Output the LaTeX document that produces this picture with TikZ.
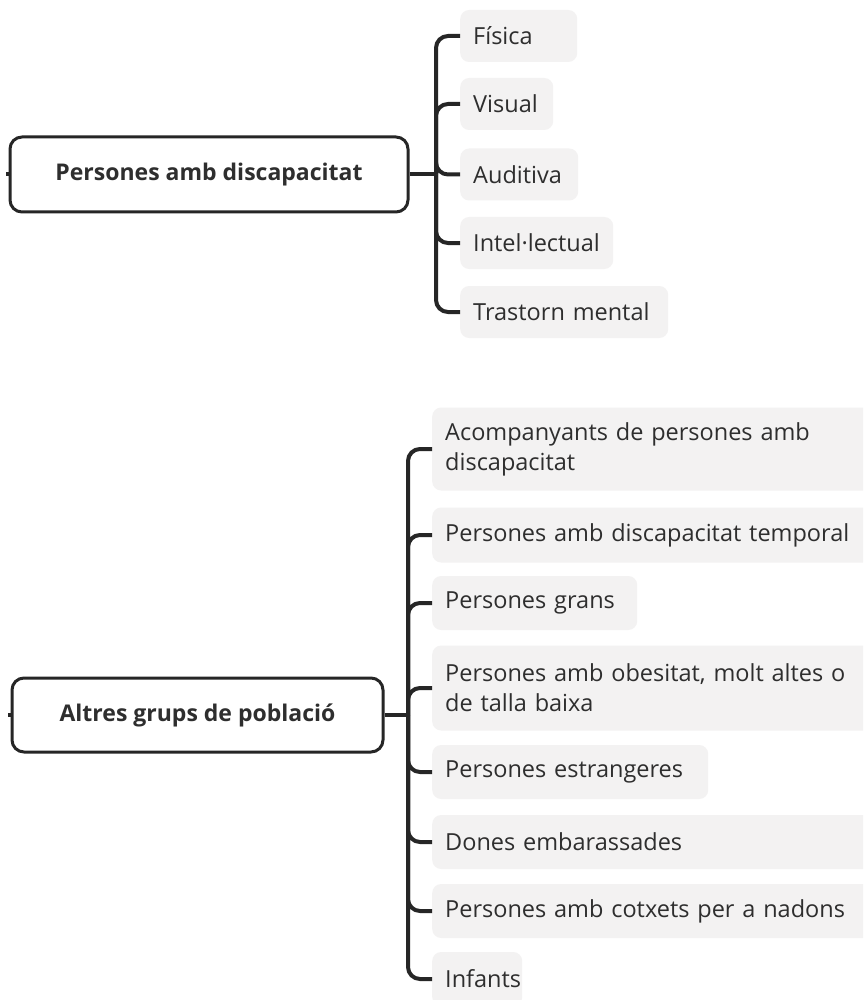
\documentclass[tikz,border=0pt]{standalone}
\usepackage{fontspec}
\setmainfont{Open Sans}
\definecolor{ln}{HTML}{262626}
\definecolor{bx}{HTML}{F3F2F2}
\definecolor{tx}{HTML}{2E2E2E}
\tikzset{
 parentbox/.style={draw=ln, line width=3pt, rounded corners=12pt, fill=white, font=\fontsize{23}{27}\selectfont\bfseries, text=tx, inner sep=0pt},
 childbox/.style={fill=bx, rounded corners=9pt, anchor=west, align=left, inner xsep=13pt, inner ysep=0pt, font=\fontsize{23.5}{30}\selectfont, text=tx},
 conn/.style={draw=ln, line width=4pt, rounded corners=12pt},
 stub/.style={draw=ln, line width=4pt},
}
\begin{document}
\begin{tikzpicture}[x=1pt,y=-1pt]
\useasboundingbox (0,0) rectangle (863,1000);
\clip (0,0) rectangle (863,1000);
\fill[white] (0,0) rectangle (863,1000);
% top group
\node[parentbox, minimum width=398pt, minimum height=75pt] (p1) at (209,174.5) {Persones amb discapacitat};
\node[childbox, text width=91pt, minimum height=52pt] (c1) at (460,36) {Física};
\node[childbox, text width=67pt, minimum height=52pt] (c2) at (460,104) {Visual};
\node[childbox, text width=92pt, minimum height=52pt] (c3) at (460,174.5) {Auditiva};
\node[childbox, text width=127pt, minimum height=52pt] (c4) at (460,243) {Intel·lectual};
\node[childbox, text width=182pt, minimum height=52pt] (c5) at (460,312) {Trastorn mental};
\coordinate (s1) at (436,174.5);
\draw[stub] (p1.west) -- ++(-3,0);
\draw[conn] (p1.east) -- (s1);
\foreach \c in {c1,c2,c3,c4,c5} {\draw[conn] (s1) |- (\c.west);}
% bottom group
\node[parentbox, minimum width=371pt, minimum height=74pt] (p2) at (197.5,715) {Altres grups de població};
\node[childbox, text width=434pt, minimum height=83pt] (d1) at (432,449) {Acompanyants de persones amb\\discapacitat};
\node[childbox, text width=434pt, minimum height=55pt] (d2) at (432,535) {Persones amb discapacitat temporal};
\node[childbox, text width=179pt, minimum height=54pt] (d3) at (432,603) {Persones grans};
\node[childbox, text width=434pt, minimum height=85pt] (d4) at (432,688) {Persones amb obesitat, molt altes o\\de talla baixa};
\node[childbox, text width=250pt, minimum height=54pt] (d5) at (432,772) {Persones estrangeres};
\node[childbox, text width=434pt, minimum height=54pt] (d6) at (432,842) {Dones embarassades};
\node[childbox, text width=434pt, minimum height=54pt] (d7) at (432,911) {Persones amb cotxets per a nadons};
\node[childbox, text width=64pt, minimum height=54pt] (d8) at (432,979) {Infants};
\coordinate (s2) at (408,715);
\draw[stub] (p2.west) -- ++(-3,0);
\draw[conn] (p2.east) -- (s2);
\foreach \c in {d1,d2,d3,d4,d5,d6,d7,d8} {\draw[conn] (s2) |- (\c.west);}
\end{tikzpicture}
\end{document}
